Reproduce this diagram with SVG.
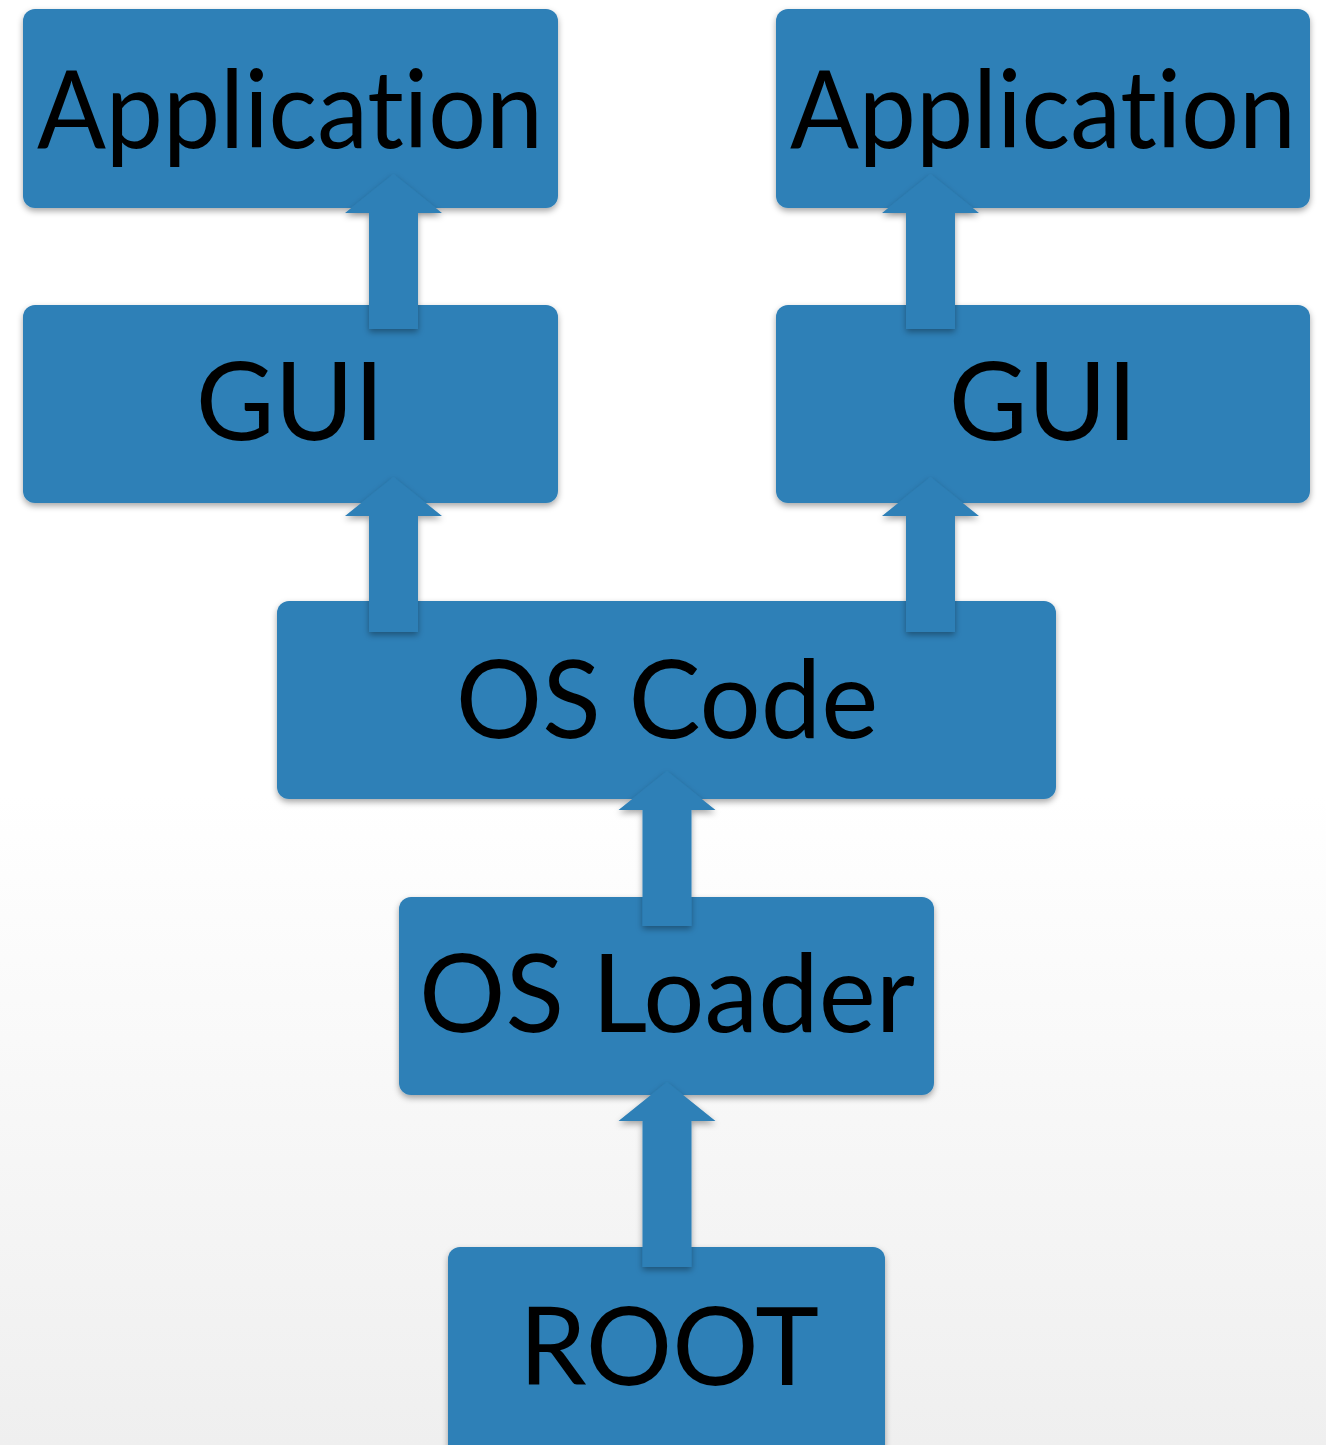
<svg xmlns="http://www.w3.org/2000/svg" width="1326" height="1445" viewBox="0 0 1326 1445">
<defs>
<linearGradient id="bg" x1="0" y1="0" x2="0" y2="1">
<stop offset="0" stop-color="#ffffff"/>
<stop offset="0.55" stop-color="#ffffff"/>
<stop offset="1" stop-color="#efefef"/>
</linearGradient>
<filter id="sh" x="-10%" y="-10%" width="120%" height="130%">
<feDropShadow dx="0" dy="3" stdDeviation="3" flood-color="#000" flood-opacity="0.35"/>
</filter>
<path id="arrow" d="M-24.5 0 V-116 H-48.5 L0 -155 L48.5 -116 H24.5 V0 Z"/>
</defs>
<style>
.box{fill:#2f80b7;filter:url(#sh)}
.arr{fill:#2f80b7;filter:url(#sh)}
.lbl{font-family:Lato,"Open Sans","Liberation Sans",sans-serif;font-size:108px;fill:#000;text-anchor:middle;font-variant-ligatures:none}
</style>
<rect width="1326" height="1445" fill="url(#bg)"/>
<g id="app-left"><rect class="box" x="23" y="9" width="535" height="199" rx="12"/><text class="lbl" x="290" y="148" textLength="506" lengthAdjust="spacingAndGlyphs">Application</text></g>
<g id="app-right"><rect class="box" x="776" y="9" width="534" height="199" rx="12"/><text class="lbl" x="1043" y="148" textLength="506" lengthAdjust="spacingAndGlyphs">Application</text></g>
<g id="gui-left"><rect class="box" x="23" y="305" width="535" height="198" rx="12"/><text class="lbl" x="290" y="440">GUI</text></g>
<g id="gui-right"><rect class="box" x="776" y="305" width="534" height="198" rx="12"/><text class="lbl" x="1043" y="440">GUI</text></g>
<g id="os-code"><rect class="box" x="277" y="601" width="779" height="198" rx="12"/><text class="lbl" x="667" y="738">OS Code</text></g>
<g id="os-loader"><rect class="box" x="399" y="897" width="535" height="198" rx="12"/><text class="lbl" x="667" y="1032">OS Loader</text></g>
<g id="root"><rect class="box" x="448" y="1247" width="437" height="210" rx="12"/><text class="lbl" x="669" y="1385">ROOT</text></g>
<g id="connectors">
<use class="arr" href="#arrow" x="393.5" y="329"/>
<use class="arr" href="#arrow" x="930.5" y="329"/>
<use class="arr" href="#arrow" x="393.5" y="632"/>
<use class="arr" href="#arrow" x="930.5" y="632"/>
<use class="arr" href="#arrow" x="667" y="926"/>
<path class="arr" d="M642.5 1267 V1121 H618.5 L667 1082 L715.5 1121 H691.5 V1267 Z"/>
</g>
</svg>
